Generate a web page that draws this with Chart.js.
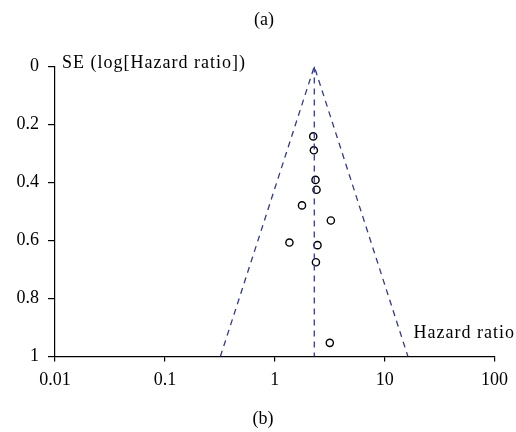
<!DOCTYPE html>
<html>
<head>
<meta charset="utf-8">
<script src="https://cdn.jsdelivr.net/npm/chart.js@4/dist/chart.umd.min.js"></script>
<style>
  html, body { margin: 0; padding: 0; background: #fff; }
  #wrap { position: relative; width: 516px; height: 432px; }
</style>
</head>
<body>
<div id="wrap"><canvas id="funnel" width="516" height="432"></canvas></div>
<script>
/* ---------- data ---------- */
const studyHR = [2.24, 2.27, 2.35, 2.40, 1.77, 3.24, 1.36, 2.45, 2.37, 3.17];
const studySE = [0.241, 0.289, 0.391, 0.425, 0.479, 0.531, 0.607, 0.616, 0.675, 0.953];

const pooledHR = 2.29;            // apex / centre line
const limitsAtSE1 = [0.32, 16.3]; // where the dashed cone meets SE = 1
const seRange = [0, 1];

const xTicks = [0.01, 0.1, 1, 10, 100];
const yTicks = [0, 0.2, 0.4, 0.6, 0.8, 1];

const FONT = "'Liberation Serif', 'DejaVu Serif', serif";
const LINE = "#33398a";

/* ---------- panel letters and axis titles ---------- */
const labels = {
    id: "labels",
    afterDraw(chart) {
        const { ctx, chartArea } = chart;
        ctx.save();
        ctx.fillStyle = "#000";
        ctx.font = "18px " + FONT;
        ctx.textBaseline = "alphabetic";
        ctx.textAlign = "center";
        ctx.fillText("(a)", 264, 25);
        ctx.fillText("(b)", 263, 424);
        ctx.letterSpacing = "1px";
        ctx.textAlign = "left";
        ctx.fillText("SE (log[Hazard ratio])", chartArea.left + 7, 68);
        ctx.textAlign = "right";
        ctx.fillText("Hazard ratio", 515, 338);
        ctx.restore();
    }
};

const dashed = {
    type: "line",
    showLine: true,
    borderColor: LINE,
    borderWidth: 1.3,
    borderDash: [6, 5],
    pointRadius: 0,
    fill: false
};

new Chart(document.getElementById("funnel"), {
    type: "scatter",
    data: {
        datasets: [
            Object.assign({}, dashed, {
                data: [{ x: limitsAtSE1[0], y: seRange[1] }, { x: pooledHR, y: seRange[0] }, { x: limitsAtSE1[1], y: seRange[1] }]
            }),
            Object.assign({}, dashed, {
                data: [{ x: pooledHR, y: seRange[0] }, { x: pooledHR, y: seRange[1] }]
            }),
            {
                type: "scatter",
                data: studyHR.map((hr, i) => ({ x: hr, y: studySE[i] })),
                pointStyle: "circle",
                pointRadius: 3.6,
                borderColor: "#000",
                borderWidth: 1.4,
                backgroundColor: "rgba(255,255,255,0)"
            }
        ]
    },
    options: {
        responsive: false,
        animation: false,
        layout: { padding: { left: 0, right: 18, top: 66.5, bottom: 45.5 } },
        plugins: {
            legend: { display: false },
            tooltip: { enabled: false }
        },
        scales: {
            x: {
                type: "logarithmic",
                min: xTicks[0],
                max: xTicks[xTicks.length - 1],
                afterBuildTicks: (scale) => { scale.ticks = xTicks.map(v => ({ value: v })); },
                afterFit: (scale) => { scale.height = 30; },
                grid: { display: true, drawOnChartArea: false, drawTicks: true, tickLength: 5, color: "#000", lineWidth: 1.2 },
                border: { display: true, color: "#000", width: 1.2 },
                ticks: {
                    color: "#000",
                    padding: 8,
                    maxRotation: 0,
                    autoSkip: false,
                    font: { family: FONT, size: 18 },
                    callback: (v) => String(v)
                }
            },
            y: {
                type: "linear",
                reverse: true,
                min: yTicks[0],
                max: yTicks[yTicks.length - 1],
                afterBuildTicks: (scale) => { scale.ticks = yTicks.map(v => ({ value: v })); },
                afterFit: (scale) => { scale.width = 55; },
                grid: { display: true, drawOnChartArea: false, drawTicks: true, tickLength: 7, color: "#000", lineWidth: 1.2 },
                border: { display: true, color: "#000", width: 1.2 },
                ticks: {
                    color: "#000",
                    padding: 9,
                    font: { family: FONT, size: 18 },
                    callback: (v) => String(+v.toFixed(1))
                }
            }
        }
    },
    plugins: [labels]
});
</script>
</body>
</html>
